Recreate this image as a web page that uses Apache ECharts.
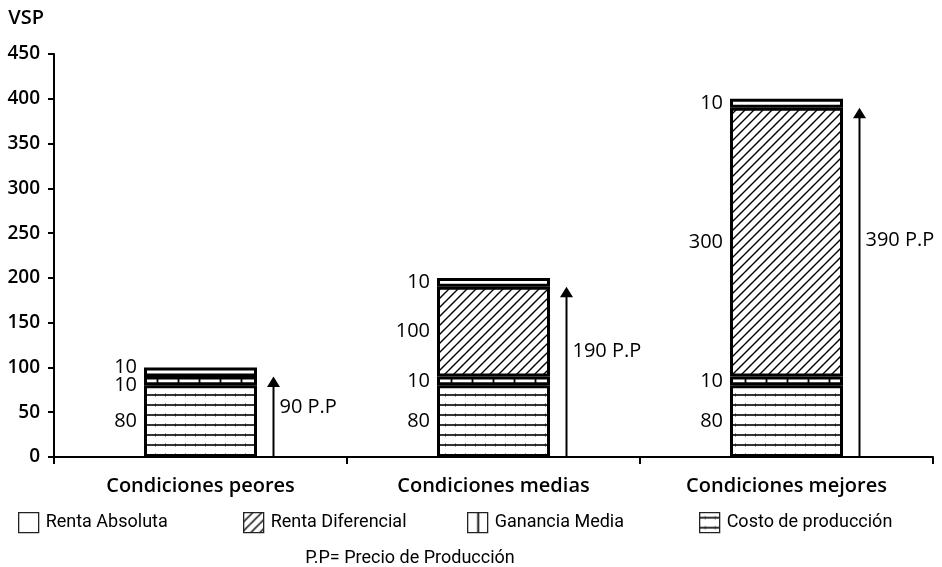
<!DOCTYPE html>
<html>
<head>
<meta charset="utf-8">
<script src="https://cdn.jsdelivr.net/npm/echarts@6/dist/echarts.min.js"></script>
<style>
  html, body { margin: 0; padding: 0; background: #fff; }
  #chart { width: 942px; height: 567px; }
</style>
</head>
<body>
<div id="chart"></div>
<script>
// Categories and stacked components of the price (VSP)
const categories = ['Condiciones peores', 'Condiciones medias', 'Condiciones mejores'];
const costoProduccion = [80, 80, 80];
const gananciaMedia = [10, 10, 10];
const rentaDiferencial = [0, 100, 300];
const rentaAbsoluta = [10, 10, 10];
// Production price shown by the arrows
const precioProduccion = [90, 190, 390];
// Value axis scale
const yMin = 0, yMax = 450, yStep = 50;

const FONT = 'Open Sans';
const NARROW = 'Roboto, "Liberation Sans", sans-serif';

// Hatch fills drawn on small canvases
function makePattern(w, h, draw) {
  const c = document.createElement('canvas');
  c.width = w; c.height = h;
  const ctx = c.getContext('2d');
  ctx.fillStyle = '#fff';
  ctx.fillRect(0, 0, w, h);
  draw(ctx);
  return { image: c, repeat: 'repeat' };
}
const fillHorizontal = makePattern(10, 10, ctx => {
  ctx.strokeStyle = '#a0a0a0'; ctx.lineWidth = 1;
  ctx.beginPath(); ctx.moveTo(5.5, 3); ctx.lineTo(5.5, 7); ctx.stroke();
  ctx.strokeStyle = '#000'; ctx.lineWidth = 1.6;
  ctx.beginPath(); ctx.moveTo(0, 5); ctx.lineTo(10, 5); ctx.stroke();
});
const fillVertical = makePattern(21, 10, ctx => {
  ctx.strokeStyle = '#000'; ctx.lineWidth = 1.8;
  ctx.beginPath(); ctx.moveTo(10.5, 0); ctx.lineTo(10.5, 10); ctx.stroke();
});
const fillDiagonal = makePattern(9, 9, ctx => {
  ctx.strokeStyle = '#000'; ctx.lineWidth = 1.4;
  ctx.beginPath();
  ctx.moveTo(0, 9); ctx.lineTo(9, 0);
  ctx.moveTo(-1, 1); ctx.lineTo(1, -1);
  ctx.moveTo(8, 10); ctx.lineTo(10, 8);
  ctx.stroke();
});
const fillPlain = '#fff';

// Two thin neighbouring segments (no differential rent) get their labels nudged apart
function nudge(dir) {
  return params => (rentaDiferencial[params.dataIndex] === 0 ? { dy: dir * 4.5 } : {});
}

function barSeries(name, data, fill, labelLayout) {
  return {
    name: name,
    type: 'bar',
    stack: 'vsp',
    data: data,
    barWidth: 113,
    itemStyle: { color: fill, borderColor: '#000', borderWidth: 3 },
    emphasis: { disabled: true },
    label: {
      show: true,
      position: 'left',
      distance: 7,
      color: '#000',
      fontFamily: FONT,
      fontSize: 20,
      formatter: p => (p.value ? String(p.value) : '')
    },
    labelLayout: labelLayout
  };
}

const legendCommon = {
  orient: 'horizontal',
  top: 512,
  padding: 0,
  itemWidth: 20,
  itemHeight: 20,
  icon: 'rect',
  selectedMode: false,
  itemStyle: { borderWidth: 1.3, borderColor: '#222' },
  textStyle: { fontFamily: NARROW, fontSize: 18, color: '#000', padding: [0, 0, 0, 2] }
};

const chart = echarts.init(document.getElementById('chart'), null, { renderer: 'canvas' });
chart.setOption({
  animation: false,
  backgroundColor: '#fff',
  grid: { left: 54, right: 9, top: 54, bottom: 110, containLabel: false },
  xAxis: {
    type: 'category',
    data: categories,
    boundaryGap: true,
    axisLine: { lineStyle: { color: '#000', width: 2 } },
    axisTick: { show: true, length: 7, lineStyle: { color: '#000', width: 2 } },
    axisLabel: { color: '#000', fontFamily: FONT, fontSize: 20, fontWeight: 600, margin: 19 }
  },
  yAxis: {
    type: 'value',
    min: yMin,
    max: yMax,
    interval: yStep,
    name: 'VSP',
    nameLocation: 'end',
    nameGap: 26,
    nameTextStyle: { color: '#000', fontFamily: FONT, fontSize: 20, fontWeight: 600, align: 'right', padding: [0, 10, 0, 0] },
    axisLine: { show: true, lineStyle: { color: '#000', width: 2 } },
    axisTick: { show: true, length: 6, lineStyle: { color: '#000', width: 2 } },
    axisLabel: { color: '#000', fontFamily: FONT, fontSize: 19, fontWeight: 600, margin: 14 },
    splitLine: { show: false }
  },
  legend: [
    Object.assign({ left: 18, data: ['Renta Absoluta'] }, legendCommon),
    Object.assign({ left: 243, data: ['Renta Diferencial'] }, legendCommon),
    Object.assign({ left: 467, data: ['Ganancia Media'] }, legendCommon),
    Object.assign({ left: 699, data: ['Costo de producción'] }, legendCommon)
  ],
  graphic: [{
    type: 'text',
    x: 410,
    y: 558,
    style: {
      text: 'P.P= Precio de Producción',
      fill: '#000',
      fontFamily: NARROW,
      fontSize: 18,
      align: 'center',
      verticalAlign: 'middle'
    }
  }],
  series: [
    barSeries('Costo de producción', costoProduccion, fillHorizontal),
    barSeries('Ganancia Media', gananciaMedia, fillVertical, nudge(1)),
    barSeries('Renta Diferencial', rentaDiferencial, fillDiagonal),
    barSeries('Renta Absoluta', rentaAbsoluta, fillPlain, nudge(-1)),
    {
      // Arrows marking the production price next to each column
      type: 'custom',
      name: 'Precio de Producción',
      data: precioProduccion.map((v, i) => [i, v]),
      z: 3,
      renderItem: function (params, api) {
        const i = api.value(0);
        const v = api.value(1);
        const base = api.coord([i, 0]);
        const tip = api.coord([i, v]);
        const mid = api.coord([i, v * 0.62]);
        const x = base[0] + 73;
        return {
          type: 'group',
          children: [
            { type: 'line', shape: { x1: x, y1: base[1], x2: x, y2: tip[1] + 8 }, style: { stroke: '#000', lineWidth: 2 } },
            { type: 'polygon', shape: { points: [[x, tip[1]], [x - 6.5, tip[1] + 10.5], [x + 6.5, tip[1] + 10.5]] }, style: { fill: '#000' } },
            { type: 'text', x: x + 6, y: mid[1], style: { text: v + ' P.P', fill: '#000', fontFamily: FONT, fontSize: 20, align: 'left', verticalAlign: 'middle' } }
          ]
        };
      }
    }
  ]
});
</script>
</body>
</html>
